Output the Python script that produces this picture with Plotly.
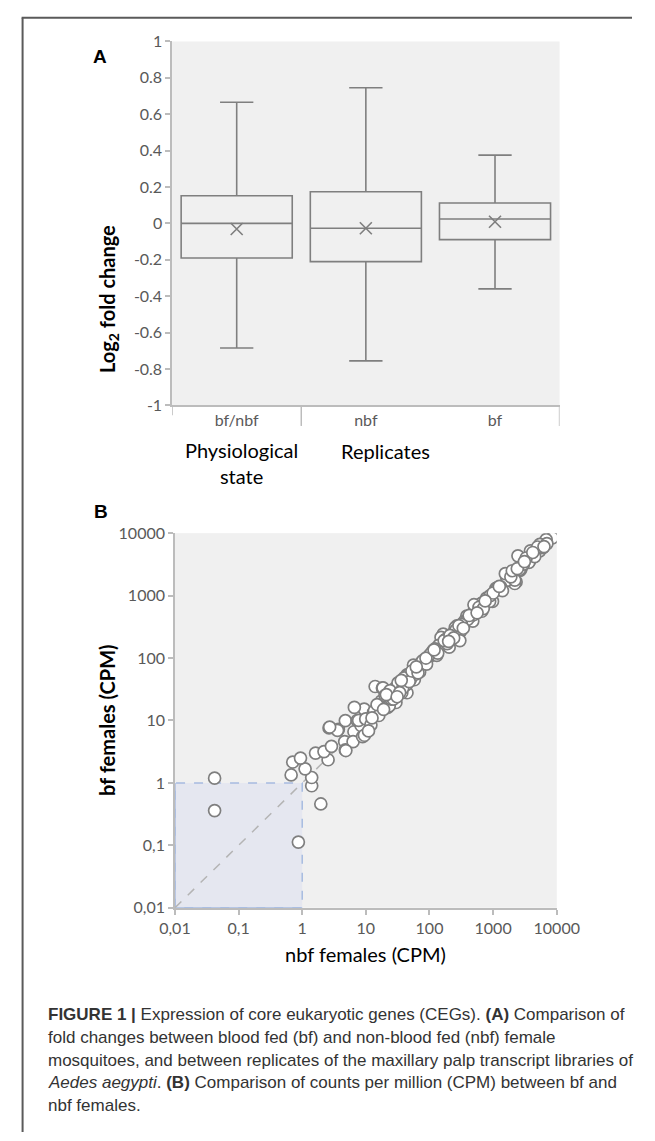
import plotly.graph_objects as go

W, H = 655, 1141

# ---------------- Panel A data (box statistics, log2 fold change) ----------------
box_cats = ["bf/nbf", "nbf", "bf"]
box_upper = [0.666, 0.746, 0.375]
box_q3 = [0.152, 0.174, 0.112]
box_median = [0.0, -0.027, 0.024]
box_q1 = [-0.190, -0.210, -0.089]
box_lower = [-0.685, -0.756, -0.360]
box_mean = [-0.031, -0.027, 0.009]
a_tickvals = [1, 0.8, 0.6, 0.4, 0.2, 0, -0.2, -0.4, -0.6, -0.8, -1]
a_ticktext = ["1", "0.8", "0.6", "0.4", "0.2", "0", "-0.2", "-0.4", "-0.6", "-0.8", "-1"]

# ---------------- Panel B data (CPM) ----------------
nbf_cpm = [0.042, 0.042, 0.87, 1.96, 1.41, 1.41, 1.11, 0.67, 0.71, 0.94,
           1.62, 2.55, 2.2, 2.64, 2.88, 3.7, 4.65, 4.76, 4.76, 6.5,
           7.3, 6.3, 8.9, 9.4, 10.8, 13.2, 14, 18.2, 17.5, 22, 8.4,
           4.85, 7.7, 6.6, 13.6, 9.5, 29.7, 27.7, 44.3, 44.3, 42.4, 64.7, 56,
           86, 115, 153, 204, 164, 234, 312, 270, 385, 479, 479, 683, 843, 977,
           1211, 1727, 1611, 2296, 2650, 2847, 3776, 4055, 5398,
           8550, 6810, 6080, 4840, 3650, 2750, 2190, 1650, 1312, 1106, 787, 664,
           500, 447, 356, 2455, 3860, 5430,
           3650, 2594, 2190, 1172, 881, 500, 398, 317, 225, 160, 114, 81, 46,
           43.5, 29.2, 18.6, 9.96, 3.59, 2.7, 23.3, 36.7, 57.8, 152, 254, 300,
           664, 500, 1556,
           12, 11, 16, 20, 25, 32, 38, 50, 60, 70, 75, 95, 100, 130, 140, 180,
           190, 260, 600, 700, 900, 1400, 1900, 3000, 4500, 7000, 5000, 3300,
           2000, 1000,
           15, 19, 24, 27, 34, 40, 48, 53, 66, 78, 90, 105, 122, 135, 170, 210,
           240, 290, 340, 420, 560, 750, 1250, 2400, 3100, 4200, 6300, 12.5,
           21, 31, 36, 62, 88, 118, 200]
bf_cpm = [1.19, 0.36, 0.113, 0.46, 0.90, 1.22, 1.68, 1.34, 2.16, 2.5,
          3.0, 2.35, 3.18, 7.6, 3.85, 7.2, 4.57, 9.96, 3.37, 6.6,
          9.96, 4.57, 5.5, 15.2, 10.6, 13.5, 35, 33, 20.5, 16.2, 8.3,
          3.3, 10, 16.2, 14.3, 5.8, 19.4, 31.3, 27.8, 53.7, 39.8, 68.4, 77,
          92, 125, 179, 149, 242, 228, 273, 327, 469, 469, 391, 759, 908, 805,
          1303, 1762, 2109, 1656, 2528, 3631, 3631, 4603, 5200,
          8410, 7900, 5860, 5510, 3850, 2680, 1560, 1762, 1384, 1303, 908, 759,
          561, 469, 391, 4330, 5200, 6600,
          3410, 2618, 1762, 1334, 805, 498, 416, 347, 242, 179, 132, 92, 53.7,
          37.5, 33.3, 33.3, 10.6, 6.95, 7.85, 17.1, 27.8, 44.9, 214, 307, 190,
          561, 714, 2240,
          8.5, 6.8, 12, 25, 22, 40, 33, 45, 55, 60, 85, 100, 110, 110, 160, 200,
          170, 280, 650, 620, 1000, 1200, 2000, 3200, 4200, 6800, 6000, 4000,
          2500, 1100,
          18, 15, 30, 22, 28, 48, 42, 62, 58, 90, 80, 118, 140, 120, 190, 230,
          210, 330, 300, 480, 530, 820, 1400, 2700, 3500, 4900, 6100, 11,
          26, 24, 44, 72, 100, 135, 185]
b_tickvals = [0.01, 0.1, 1, 10, 100, 1000, 10000]
b_ticktext = ["0,01", "0,1", "1", "10", "100", "1000", "10000"]
shade_x = [0.01, 0.01, 1, 1, 0.01]
shade_y = [0.01, 1, 1, 0.01, 0.01]
diag = [0.01, 10000]

def px_x(p):
    return p / W

def px_y(p):
    return 1 - p / H

GREY = "#7f7f7f"
AXC = "#bcbcbc"
FONT = "Lato, Carlito, sans-serif"
TICKF = dict(family=FONT, size=16, color="#595959")

fig = go.Figure()

fig.add_trace(go.Box(
    x=box_cats, q1=box_q1, median=box_median, q3=box_q3,
    lowerfence=box_lower, upperfence=box_upper,
    fillcolor="rgba(0,0,0,0)", line=dict(color=GREY, width=1.6),
    whiskerwidth=0.3, width=0.86, boxpoints=False, showlegend=False,
    xaxis="x", yaxis="y", hoverinfo="skip"))
fig.add_trace(go.Scatter(
    x=box_cats, y=box_mean, mode="markers",
    marker=dict(symbol="x-thin", size=12, line=dict(color=GREY, width=1.6)),
    showlegend=False, xaxis="x", yaxis="y"))

# Panel B
fig.add_trace(go.Scatter(
    x=shade_x, y=shade_y, mode="lines", fill="toself", fillcolor="#e5e7f0",
    line=dict(color="#a6bbe0", width=1.5, dash="dash"),
    showlegend=False, xaxis="x2", yaxis="y2", hoverinfo="skip"))
fig.add_trace(go.Scatter(
    x=[shade_x[1], shade_x[0], shade_x[3]], y=[shade_y[1], shade_y[0], shade_y[3]],
    mode="lines", line=dict(color="#a6bbe0", width=1.5),
    showlegend=False, xaxis="x2", yaxis="y2", hoverinfo="skip"))
fig.add_trace(go.Scatter(
    x=diag, y=diag, mode="lines", line=dict(color="#b4b4b4", width=1.5, dash="dash"),
    showlegend=False, xaxis="x2", yaxis="y2", hoverinfo="skip"))
fig.add_trace(go.Scatter(
    x=nbf_cpm, y=bf_cpm, mode="markers",
    marker=dict(size=12, color="white", line=dict(color=GREY, width=1.7)),
    showlegend=False, xaxis="x2", yaxis="y2"))

fig.update_layout(
    width=W, height=H, autosize=False,
    margin=dict(l=0, r=0, t=0, b=0),
    paper_bgcolor="white", plot_bgcolor="#f0f0f0",
    xaxis=dict(domain=[px_x(166), px_x(578)], type="category", range=[-0.5, 2.5],
               showline=True, linecolor=AXC, linewidth=1.5, ticks="",
               showgrid=False, tickfont=TICKF, anchor="y", fixedrange=True),
    yaxis=dict(domain=[px_y(402), px_y(32)], range=[-1, 1],
               tickvals=a_tickvals, ticktext=a_ticktext,
               ticks="outside", ticklen=5, tickcolor=AXC, tickwidth=1.5,
               showline=True, linecolor=AXC, linewidth=1.5,
               showgrid=False, zeroline=False, tickfont=TICKF, anchor="x"),
    xaxis2=dict(domain=[px_x(169), px_x(575)], type="log", range=[-2, 4],
                tickvals=b_tickvals, ticktext=b_ticktext,
                ticks="outside", ticklen=5, tickcolor=AXC, tickwidth=1.5,
                showline=True, linecolor=AXC, linewidth=1.5,
                showgrid=False, zeroline=False, tickfont=TICKF, anchor="y2"),
    yaxis2=dict(domain=[px_y(913), px_y(532)], type="log", range=[-2, 4],
                tickvals=b_tickvals, ticktext=b_ticktext,
                ticks="outside", ticklen=5, tickcolor=AXC, tickwidth=1.5,
                showline=True, linecolor=AXC, linewidth=1.5,
                showgrid=False, zeroline=False, tickfont=TICKF, anchor="x2"),
)

# category separators on panel A
sep_len = {-0.5: 10, 0.5: 21, 2.5: 21}
for xv, ln in sep_len.items():
    fig.add_shape(type="line", xref="x", yref="paper", x0=xv, x1=xv,
                  y0=px_y(402), y1=px_y(402 + ln), line=dict(color=AXC, width=1.5))

# frame
fig.add_shape(type="line", xref="paper", yref="paper", x0=px_x(7), x1=px_x(7),
              y0=px_y(8), y1=0, line=dict(color="#5a5a5a", width=2))
fig.add_shape(type="line", xref="paper", yref="paper", x0=px_x(6), x1=1,
              y0=px_y(8), y1=px_y(8), line=dict(color="#5a5a5a", width=2))

LBL = dict(family=FONT, size=20, color="black")
LBLB = dict(family=FONT, size=20, color="black", weight="bold")

def ann(text, x, y, font, **kw):
    fig.add_annotation(text=text, x=px_x(x), y=px_y(y), xref="paper", yref="paper",
                       showarrow=False, font=font, **kw)

ann("<b>A</b>", 80, 35, dict(family="Liberation Sans, Arial", size=19, color="black"))
ann("<b>B</b>", 81, 510, dict(family="Liberation Sans, Arial", size=19, color="black"))
ann("<b>Log<sub>2</sub> fold change</b>", 82, 217, LBLB, textangle=-90)
ann("Physiological<br>state", 240, 461, LBL)
ann("Replicates", 442, 448, LBL)
ann("<b>bf females (CPM)</b>", 82, 722, LBLB, textangle=-90)
ann("nbf females (CPM)", 372, 974, LBL)

caption_lines = [
    "<b>FIGURE 1 |</b> Expression of core eukaryotic genes (CEGs). <b>(A)</b> Comparison of",
    "fold changes between blood fed (bf) and non-blood fed (nbf) female",
    "mosquitoes, and between replicates of the maxillary palp transcript libraries of",
    "<i>Aedes aegypti</i>. <b>(B)</b> Comparison of counts per million (CPM) between bf and",
    "nbf females.",
]
for i, line in enumerate(caption_lines):
    fig.add_annotation(text=line, x=px_x(32), y=px_y(1022 + i * 23), xref="paper",
                       yref="paper", xanchor="left", yanchor="middle", align="left",
                       showarrow=False,
                       font=dict(family="Liberation Sans, Arial", size=17, color="#333333"))

fig.write_html(
    "out.html",
    config={"displayModeBar": False},
    post_script="document.body.style.margin='0px';document.body.style.overflow='hidden';",
)
